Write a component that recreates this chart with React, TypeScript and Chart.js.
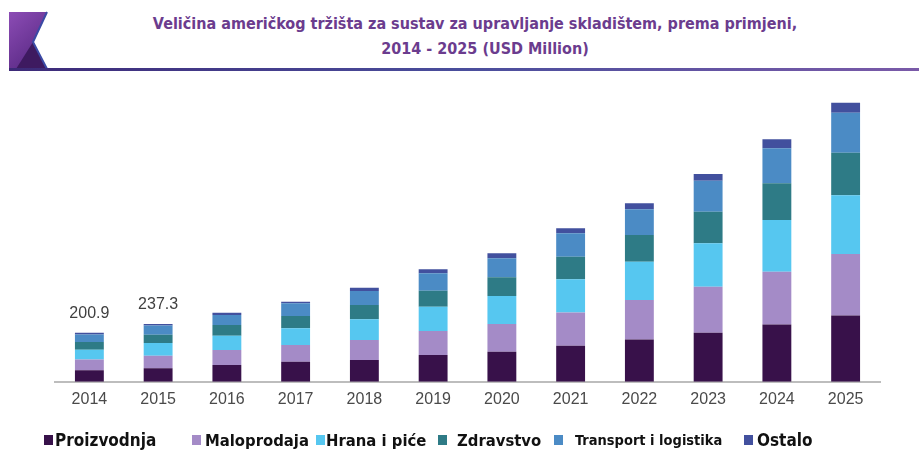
import React, { useEffect, useRef } from "react";
import { Chart, registerables } from "chart.js";

Chart.register(...registerables);

const years = ["2014", "2015", "2016", "2017", "2018", "2019", "2020", "2021", "2022", "2023", "2024", "2025"];
const proizvodnja = [47.6, 55.5, 68.5, 82.0, 89.0, 109.5, 123.0, 147.6, 173.8, 200.9, 235.3, 272.2];
const maloprodaja = [43.5, 50.8, 61.5, 68.5, 82.0, 98.4, 113.6, 136.9, 161.1, 188.6, 215.7, 251.3];
const hranaIPice = [40.7, 52.5, 58.6, 68.5, 84.9, 99.6, 114.8, 135.3, 157.0, 177.9, 212.0, 240.7];
const zdravstvo = [30.9, 34.3, 43.9, 50.4, 58.6, 65.6, 76.7, 92.7, 109.5, 129.6, 150.5, 174.7];
const transport = [31.3, 37.2, 41.0, 52.1, 57.4, 71.3, 77.9, 95.9, 105.4, 127.1, 143.5, 164.0];
const ostalo = [6.9, 7.0, 9.4, 7.0, 13.5, 16.4, 20.5, 20.5, 24.6, 27.5, 36.9, 41.0];
const totalLabels = ["200.9", "237.3", "", "", "", "", "", "", "", "", "", ""];

const seriesNames = ["Proizvodnja", "Maloprodaja", "Hrana i piće", "Zdravstvo", "Transport i logistika", "Ostalo"];
const seriesColors = ["#38114a", "#a48bc7", "#56c7f0", "#2e7b86", "#4b8bc5", "#42509e"];
const seriesData = [proizvodnja, maloprodaja, hranaIPice, zdravstvo, transport, ostalo];

const titleLine1 = "Veličina američkog tržišta za sustav za upravljanje skladištem, prema primjeni,";
const titleLine2 = "2014 - 2025 (USD Million)";

const legendLeft = [44, 192, 316, 438, 554, 744];
const legendGap = [2, 4, 1, 10, 12, 4];
const legendFont = [17, 16.5, 16.5, 16.5, 14.5, 17];

const totalLabelPlugin = {
  id: "totalLabels",
  afterDatasetsDraw(chart: any) {
    const ctx = chart.ctx;
    const last = chart.getDatasetMeta(chart.data.datasets.length - 1);
    ctx.save();
    ctx.font = "16px 'Liberation Sans', Arial, sans-serif";
    ctx.fillStyle = "#3f3f3f";
    ctx.textAlign = "center";
    ctx.textBaseline = "middle";
    totalLabels.forEach((t, i) => {
      if (!t) return;
      const el = last.data[i];
      ctx.fillText(t, el.x, el.y - 19);
    });
    ctx.restore();
  },
};

function ChartCanvas() {
  const ref = useRef<HTMLCanvasElement>(null);
  useEffect(() => {
    const chart = new Chart(ref.current!, {
      type: "bar",
      data: {
        labels: years,
        datasets: seriesData.map((d, i) => ({
          label: seriesNames[i],
          data: d,
          backgroundColor: seriesColors[i],
          borderWidth: 0,
          categoryPercentage: 1,
          barPercentage: 0.42,
        })),
      },
      options: {
        animation: false,
        responsive: false,
        devicePixelRatio: 1,
        layout: { padding: { top: 89, bottom: 35, left: 55, right: 39 } },
        plugins: { legend: { display: false }, tooltip: { enabled: false }, title: { display: false } },
        scales: {
          x: {
            stacked: true,
            grid: { display: false, drawTicks: false },
            border: { display: true, color: "#bdbdbd", width: 2 },
            ticks: { color: "#4a4a4a", padding: 8, font: { size: 16, family: "'Liberation Sans', Arial, sans-serif" } },
          },
          y: { stacked: true, display: false, min: 0, max: 1200 },
        },
      },
      plugins: [totalLabelPlugin],
    });
    return () => chart.destroy();
  }, []);
  return <canvas ref={ref} width={919} height={452} style={{ position: "absolute", left: 0, top: 0, width: 919, height: 452 }} />;
}

export default function App() {
  useEffect(() => {
    document.body.style.margin = "0";
  }, []);
  return (
    <div style={{ position: "relative", width: 919, height: 452, background: "#fff", overflow: "hidden" }}>
      <svg width={919} height={80} style={{ position: "absolute", left: 0, top: 0 }}>
        <defs>
          <linearGradient id="lg" x1="0" y1="0" x2="0.6" y2="1">
            <stop offset="0" stopColor="#8c4cb5" />
            <stop offset="1" stopColor="#5a2a85" />
          </linearGradient>
          <linearGradient id="ln" x1="0" y1="0" x2="1" y2="0">
            <stop offset="0" stopColor="#3d2a78" />
            <stop offset="0.5" stopColor="#4a4e9c" />
            <stop offset="1" stopColor="#7a5aa8" />
          </linearGradient>
        </defs>
        <polygon points="9,12 47,12 33,42 47,69 9,69" fill="url(#lg)" />
        <polygon points="16,69 33,42 47,69" fill="#3e1a60" />
        <polyline points="47,12 33,42 47,69" fill="none" stroke="#3b4aa5" strokeWidth={2} />
        <rect x={9} y={68} width={910} height={3} fill="url(#ln)" />
      </svg>
      <div
        style={{
          position: "absolute",
          left: 60,
          width: 830,
          top: 11,
          textAlign: "center",
          color: "#6b3c8e",
          fontFamily: "'Liberation Sans Narrow', 'DejaVu Sans Condensed', Roboto, sans-serif",
          fontWeight: 700,
          fontSize: 16,
          lineHeight: "25px",
        }}
      >
        <div>{titleLine1}</div>
        <div style={{ paddingLeft: 20 }}>{titleLine2}</div>
      </div>
      <ChartCanvas />
      {seriesNames.map((n, i) => (
        <div
          key={n}
          style={{
            position: "absolute",
            left: legendLeft[i],
            top: 428,
            height: 24,
            display: "flex",
            alignItems: "center",
            fontFamily: "'Liberation Sans Narrow', 'DejaVu Sans Condensed', Roboto, sans-serif",
            fontWeight: 700,
            fontSize: legendFont[i],
            color: "#111",
            whiteSpace: "nowrap",
          }}
        >
          <span style={{ display: "inline-block", width: 9, height: 10, background: seriesColors[i], marginRight: legendGap[i] }} />
          {n}
        </div>
      ))}
    </div>
  );
}
